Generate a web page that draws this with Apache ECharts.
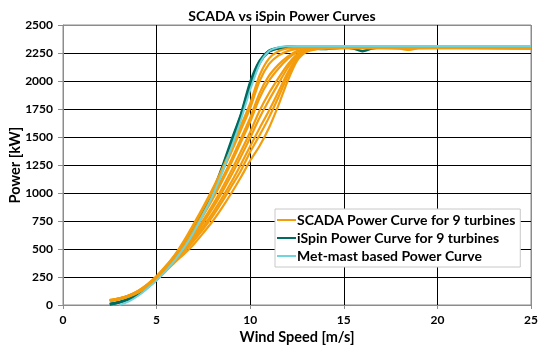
<!DOCTYPE html>
<html>
<head>
<meta charset="utf-8">
<script src="https://cdn.jsdelivr.net/npm/echarts@6/dist/echarts.min.js"></script>
<style>
  html, body { margin: 0; padding: 0; background: #fff; }
  #chart { width: 538px; height: 347px; }
</style>
</head>
<body>
<div id="chart"></div>
<script>
// wind speeds shared by all curves [m/s]
const windSpeed = [2.5, 3, 3.5, 4, 4.5, 5, 5.5, 6, 6.5, 7, 7.5, 8, 8.5, 9, 9.5, 10, 10.5, 11, 11.5, 12, 12.5, 13,
  14, 15, 15.5, 16, 16.5, 17, 18, 18.5, 19, 20, 22, 25];

// SCADA power curves [kW], one per turbine
const scada1 = [45, 60, 85, 125, 185, 258, 350, 455, 585, 730, 880, 1040, 1215, 1400, 1600, 1800, 2050, 2200, 2265, 2290, 2296, 2297,
  2297, 2297, 2297, 2297, 2297, 2297, 2297, 2297, 2297, 2297, 2296, 2295];
const scada2 = [44, 59, 84, 124, 183, 255, 346, 448, 573, 714, 861, 1017, 1187, 1368, 1563, 1759, 2000, 2150, 2226, 2267, 2287, 2294,
  2296, 2296, 2296, 2296, 2296, 2296, 2288, 2277, 2293, 2296, 2296, 2294];
const scada3 = [42, 58, 83, 121, 179, 250, 338, 433, 546, 680, 820, 968, 1129, 1300, 1485, 1672, 1892, 2045, 2144, 2218, 2267, 2288,
  2295, 2295, 2295, 2295, 2295, 2295, 2295, 2295, 2295, 2295, 2295, 2293];
const scada4 = [40, 57, 82, 120, 177, 247, 334, 426, 535, 666, 803, 947, 1105, 1272, 1453, 1637, 1848, 2002, 2110, 2197, 2259, 2285,
  2295, 2295, 2295, 2295, 2295, 2295, 2295, 2295, 2295, 2295, 2294, 2290];
const scada5 = [40, 55, 80, 118, 173, 242, 325, 418, 520, 635, 760, 895, 1043, 1200, 1370, 1545, 1735, 1890, 2023, 2145, 2238, 2278,
  2294, 2295, 2295, 2295, 2295, 2295, 2295, 2295, 2295, 2295, 2295, 2295];
const scada6 = [39, 54, 79, 116, 170, 238, 318, 410, 508, 615, 736, 866, 1008, 1160, 1324, 1494, 1672, 1828, 1974, 2116, 2226, 2275,
  2294, 2294, 2294, 2294, 2294, 2294, 2294, 2294, 2294, 2294, 2294, 2292];
const scada7 = [38, 53, 78, 114, 166, 233, 312, 402, 495, 598, 705, 823, 956, 1100, 1255, 1418, 1578, 1735, 1901, 2073, 2209, 2269,
  2293, 2295, 2295, 2295, 2295, 2295, 2295, 2295, 2295, 2295, 2295, 2295];
const scada8 = [37, 52, 77, 113, 164, 230, 308, 395, 482, 575, 680, 794, 922, 1060, 1199, 1367, 1515, 1673, 1852, 2044, 2197, 2266,
  2293, 2294, 2294, 2294, 2294, 2294, 2294, 2294, 2294, 2294, 2293, 2288];
const scada9 = [35, 50, 75, 110, 160, 225, 303, 385, 460, 545, 645, 750, 870, 1000, 1140, 1290, 1420, 1580, 1780, 2000, 2180, 2260,
  2292, 2295, 2295, 2295, 2295, 2295, 2295, 2295, 2295, 2295, 2295, 2295];

// iSpin power curves [kW]
const ispin1 = [10, 25, 55, 100, 160, 235, 320, 420, 540, 680, 840, 1010, 1230, 1470, 1700, 1990, 2180, 2270, 2295, 2305, 2308, 2308,
  2308, 2308, 2308, 2308, 2308, 2308, 2308, 2308, 2308, 2308, 2308, 2308];
const ispin2 = [5, 22, 50, 95, 155, 228, 312, 410, 528, 665, 822, 990, 1200, 1440, 1680, 1950, 2160, 2262, 2292, 2303, 2306, 2306,
  2306, 2306, 2306, 2306, 2306, 2306, 2306, 2306, 2306, 2306, 2306, 2306];
const ispin3 = [8, 24, 52, 98, 158, 232, 316, 415, 534, 672, 830, 1000, 1215, 1455, 1690, 1970, 2170, 2266, 2290, 2300, 2300, 2298,
  2285, 2298, 2290, 2266, 2290, 2302, 2305, 2305, 2305, 2305, 2305, 2305];

// met-mast based power curve [kW]
const metMast = [null, 0, 30, 80, 145, 220, 305, 405, 520, 655, 810, 980, 1180, 1410, 1650, 1920, 2150, 2265, 2300, 2310, 2312, 2312,
  2312, 2312, 2312, 2312, 2312, 2312, 2312, 2312, 2312, 2312, 2312, 2312];

const xTicks = [0, 5, 10, 15, 20, 25];
const yTicks = [0, 250, 500, 750, 1000, 1250, 1500, 1750, 2000, 2250, 2500];

const NAME_SCADA = "SCADA Power Curve for 9 turbines";
const NAME_ISPIN = "iSpin Power Curve for 9 turbines";
const NAME_MAST = "Met-mast based Power Curve";

const ORANGE = "#f39c0c";
const TEAL = "#006b60";
const CYAN = "#6fd4dc";

const toPairs = (vals) =>
  windSpeed.map((v, i) => [v, vals[i]]).filter((p) => p[1] !== null);

const makeLine = (name, vals, color, width) => ({
  name,
  type: "line",
  data: toPairs(vals),
  smooth: 0.25,
  symbol: "none",
  color,
  lineStyle: { color, width },
  emphasis: { disabled: true },
  animation: false,
});

const series = [
  ...[ispin1, ispin2, ispin3].map((s) => makeLine(NAME_ISPIN, s, TEAL, 2.5)),
  ...[scada1, scada2, scada3, scada4, scada5, scada6, scada7, scada8, scada9].map((s) =>
    makeLine(NAME_SCADA, s, ORANGE, 2.2)
  ),
  makeLine(NAME_MAST, metMast, CYAN, 2),
];

const font = "Lato, 'Open Sans', sans-serif";
const chart = echarts.init(document.getElementById("chart"), null, { renderer: "canvas" });

const edgeColors = (n) => Array.from({ length: n }, (_, i) => (i === 0 || i === n - 1 ? "#8c8c8c" : "#000"));

chart.setOption({
  backgroundColor: "#fff",
  animation: false,
  title: {
    text: "SCADA vs iSpin Power Curves",
    left: 277,
    textAlign: "center",
    top: 4,
    textStyle: { fontFamily: font, fontWeight: "bold", fontSize: 14, color: "#000" },
  },
  grid: {
    left: 63,
    right: 7,
    top: 25,
    bottom: 42,
    outerBoundsMode: "none",
    containLabel: false,
    show: true,
    borderColor: "#8c8c8c",
    borderWidth: 1,
    backgroundColor: "transparent",
  },
  legend: {
    data: [NAME_SCADA, NAME_ISPIN, NAME_MAST],
    orient: "vertical",
    left: 275,
    top: 209,
    itemWidth: 19,
    itemHeight: 2,
    itemGap: 4,
    padding: [4, 5, 4, 2],
    backgroundColor: "#fff",
    borderColor: "#c8c8c8",
    borderWidth: 1,
    icon: "rect",
    textStyle: { fontFamily: font, fontWeight: "bold", fontSize: 14, color: "#000", padding: [0, 0, 0, -4] },
  },
  xAxis: {
    type: "value",
    min: xTicks[0],
    max: xTicks[xTicks.length - 1],
    interval: 5,
    name: "Wind Speed [m/s]",
    nameLocation: "middle",
    nameGap: 25,
    nameMoveOverlap: false,
    nameTextStyle: { fontFamily: font, fontWeight: "bold", fontSize: 14.5, color: "#000" },
    axisLine: { lineStyle: { color: "#8c8c8c" } },
    axisTick: { show: true, length: 4, lineStyle: { color: "#8c8c8c" } },
    axisLabel: { fontFamily: font, fontWeight: "bold", fontSize: 12, color: "#000", margin: 9 },
    splitLine: { show: true, lineStyle: { color: edgeColors(xTicks.length), width: 1 } },
  },
  yAxis: {
    type: "value",
    min: yTicks[0],
    max: yTicks[yTicks.length - 1],
    interval: 250,
    name: "Power [kW]",
    nameLocation: "middle",
    nameGap: 40,
    nameMoveOverlap: false,
    nameTextStyle: { fontFamily: font, fontWeight: "bold", fontSize: 14.5, color: "#000" },
    axisLine: { show: true, lineStyle: { color: "#8c8c8c" } },
    axisTick: { show: true, length: 5, lineStyle: { color: "#8c8c8c" } },
    axisLabel: { fontFamily: font, fontWeight: "bold", fontSize: 12, color: "#000", margin: 10, formatter: (v) => String(v) },
    splitLine: { show: true, lineStyle: { color: edgeColors(yTicks.length), width: 1 } },
  },
  series,
});
</script>
</body>
</html>
